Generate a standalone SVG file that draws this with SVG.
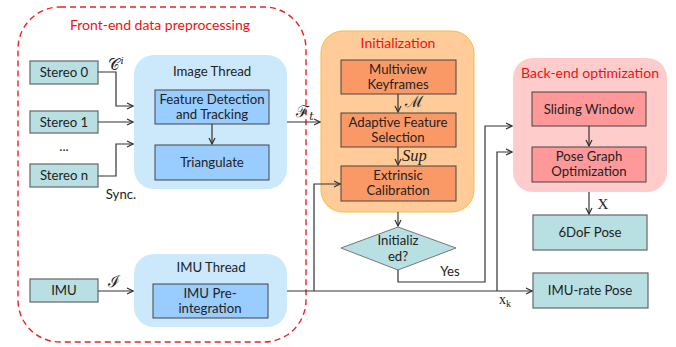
<svg xmlns="http://www.w3.org/2000/svg" width="676" height="347" viewBox="0 0 676 347">
<defs>
<marker id="ah" markerWidth="8" markerHeight="8" refX="7" refY="4" orient="auto" markerUnits="userSpaceOnUse">
<path d="M1,1 L7,4 L1,7" fill="none" stroke="#333" stroke-width="1.2"/>
</marker>
<style>
text{font-family:Lato,"Noto Sans",sans-serif;font-size:13.2px;fill:#222;text-anchor:middle}
.red{fill:#ee1111}
.math{font-family:"DejaVu Serif","Liberation Serif",serif;font-size:16px}
.it{font-family:"Liberation Serif",serif;font-style:italic;font-size:16.5px;text-anchor:start}
.src{fill:#b8dfe1;stroke:#666;stroke-width:1.2}
.blue{fill:#99ccff;stroke:#444;stroke-width:1}
.org{fill:#fb9966;stroke:#444;stroke-width:1}
.pink{fill:#ff9999;stroke:#444;stroke-width:1}
.c{fill:none;stroke:#333;stroke-width:1.2}
</style>
</defs>
<rect x="18" y="7" width="288" height="335" rx="42" fill="none" stroke="#ee2222" stroke-width="1.4" stroke-dasharray="6,4"/>
<text class="red" x="160" y="30" style="font-size:14px">Front-end data preprocessing</text>

<g id="stereo0"><rect class="src" x="30" y="61" width="68" height="23"/><text x="64" y="77">Stereo 0</text></g>
<g id="stereo1"><rect class="src" x="30" y="111" width="68" height="22"/><text x="64" y="127">Stereo 1</text></g>
<text x="64" y="151">...</text>
<g id="stereon"><rect class="src" x="30" y="164" width="68" height="23"/><text x="64" y="180">Stereo n</text></g>
<text x="121" y="199">Sync.</text>

<g id="imagethread">
<rect x="134" y="55" width="153" height="134" rx="20" fill="#cce9fb"/>
<text x="212" y="76">Image Thread</text>
<rect class="blue" x="155" y="90" width="114" height="34"/>
<text x="212" y="104">Feature Detection</text><text x="212" y="119">and Tracking</text>
<rect class="blue" x="155" y="145" width="114" height="35"/>
<text x="212" y="167">Triangulate</text>
</g>

<g id="imu"><rect class="src" x="30" y="279" width="68" height="23"/><text x="64" y="295">IMU</text></g>
<g id="imuthread">
<rect x="134" y="254" width="153" height="73" rx="20" fill="#cce9fb"/>
<text x="211" y="272">IMU Thread</text>
<rect class="blue" x="153" y="284" width="115" height="34"/>
<text x="210" y="298">IMU Pre-</text><text x="210" y="313">integration</text>
</g>

<g id="initialization">
<rect x="321" y="31" width="153" height="181" rx="22" fill="#ffcc99" stroke="#f5bb44" stroke-width="1"/>
<text class="red" x="398" y="48" style="font-size:14px">Initialization</text>
<rect class="org" x="341" y="60" width="115" height="34"/>
<text x="398" y="74">Multiview</text><text x="398" y="89">Keyframes</text>
<rect class="org" x="341" y="113" width="115" height="34"/>
<text x="398" y="127">Adaptive Feature</text><text x="398" y="142">Selection</text>
<rect class="org" x="341" y="166" width="115" height="35"/>
<text x="398" y="180">Extrinsic</text><text x="398" y="195">Calibration</text>
</g>

<g id="decision">
<polygon points="341,248 398,227 456,248 398,270" fill="#b8dfe1" stroke="#777" stroke-width="1"/>
<text x="398" y="245">Initializ</text><text x="398" y="261">ed?</text>
</g>

<g id="backend">
<rect x="513" y="58" width="154" height="134" rx="20" fill="#ffcccc"/>
<text class="red" x="590" y="78" style="font-size:14px">Back-end optimization</text>
<rect class="pink" x="532" y="92" width="114" height="34"/>
<text x="589" y="114">Sliding Window</text>
<rect class="pink" x="532" y="147" width="114" height="35"/>
<text x="589" y="161">Pose Graph</text><text x="589" y="176">Optimization</text>
</g>

<g id="pose6dof"><rect class="src" x="533" y="215" width="114" height="35"/><text x="590" y="237">6DoF Pose</text></g>
<g id="imuratepose"><rect class="src" x="533" y="273" width="115" height="35"/><text x="590" y="295">IMU-rate Pose</text></g>

<g id="connectors">
<polyline class="c" points="98,72 116,72 116,106 133,106" marker-end="url(#ah)"/>
<line class="c" x1="98" y1="122" x2="133" y2="122" marker-end="url(#ah)"/>
<polyline class="c" points="98,176 116,176 116,144 133,144" marker-end="url(#ah)"/>
<line class="c" x1="212" y1="124" x2="212" y2="144" marker-end="url(#ah)"/>
<line class="c" x1="98" y1="291" x2="133" y2="291" marker-end="url(#ah)"/>
<line class="c" x1="287" y1="122" x2="320" y2="122" marker-end="url(#ah)"/>
<line class="c" x1="398" y1="94" x2="398" y2="112" marker-end="url(#ah)"/>
<line class="c" x1="398" y1="147" x2="398" y2="165" marker-end="url(#ah)"/>
<line class="c" x1="398" y1="212" x2="398" y2="226" marker-end="url(#ah)"/>
<line class="c" x1="287" y1="291" x2="532" y2="291" marker-end="url(#ah)"/>
<polyline class="c" points="314,291 314,184 340,184" marker-end="url(#ah)"/>
<polyline class="c" points="497,291 497,152 512,152" marker-end="url(#ah)"/>
<polyline class="c" points="398,270 398,282 485,282 485,126 512,126" marker-end="url(#ah)"/>
<line class="c" x1="589" y1="126" x2="589" y2="146" marker-end="url(#ah)"/>
<line class="c" x1="589" y1="192" x2="589" y2="214" marker-end="url(#ah)"/>
</g>

<text class="math" x="116" y="70">𝒞<tspan style="font-size:10px;font-style:italic" dy="-6">i</tspan></text>
<text class="math" x="305" y="117">ℱ<tspan style="font-size:11px;font-style:italic" dy="3">t</tspan></text>
<text class="math" x="414" y="107">ℳ</text>
<text class="it" x="402" y="161">Sup</text>
<text class="math" x="114" y="287">ℐ</text>
<text x="450" y="276">Yes</text>
<text style="font-family:'Liberation Serif',serif;font-size:15px" x="603" y="209">X</text>
<text style="font-family:'Liberation Serif',serif;font-size:14px" x="505" y="304">x<tspan style="font-size:10px" dy="3">k</tspan></text>
</svg>
